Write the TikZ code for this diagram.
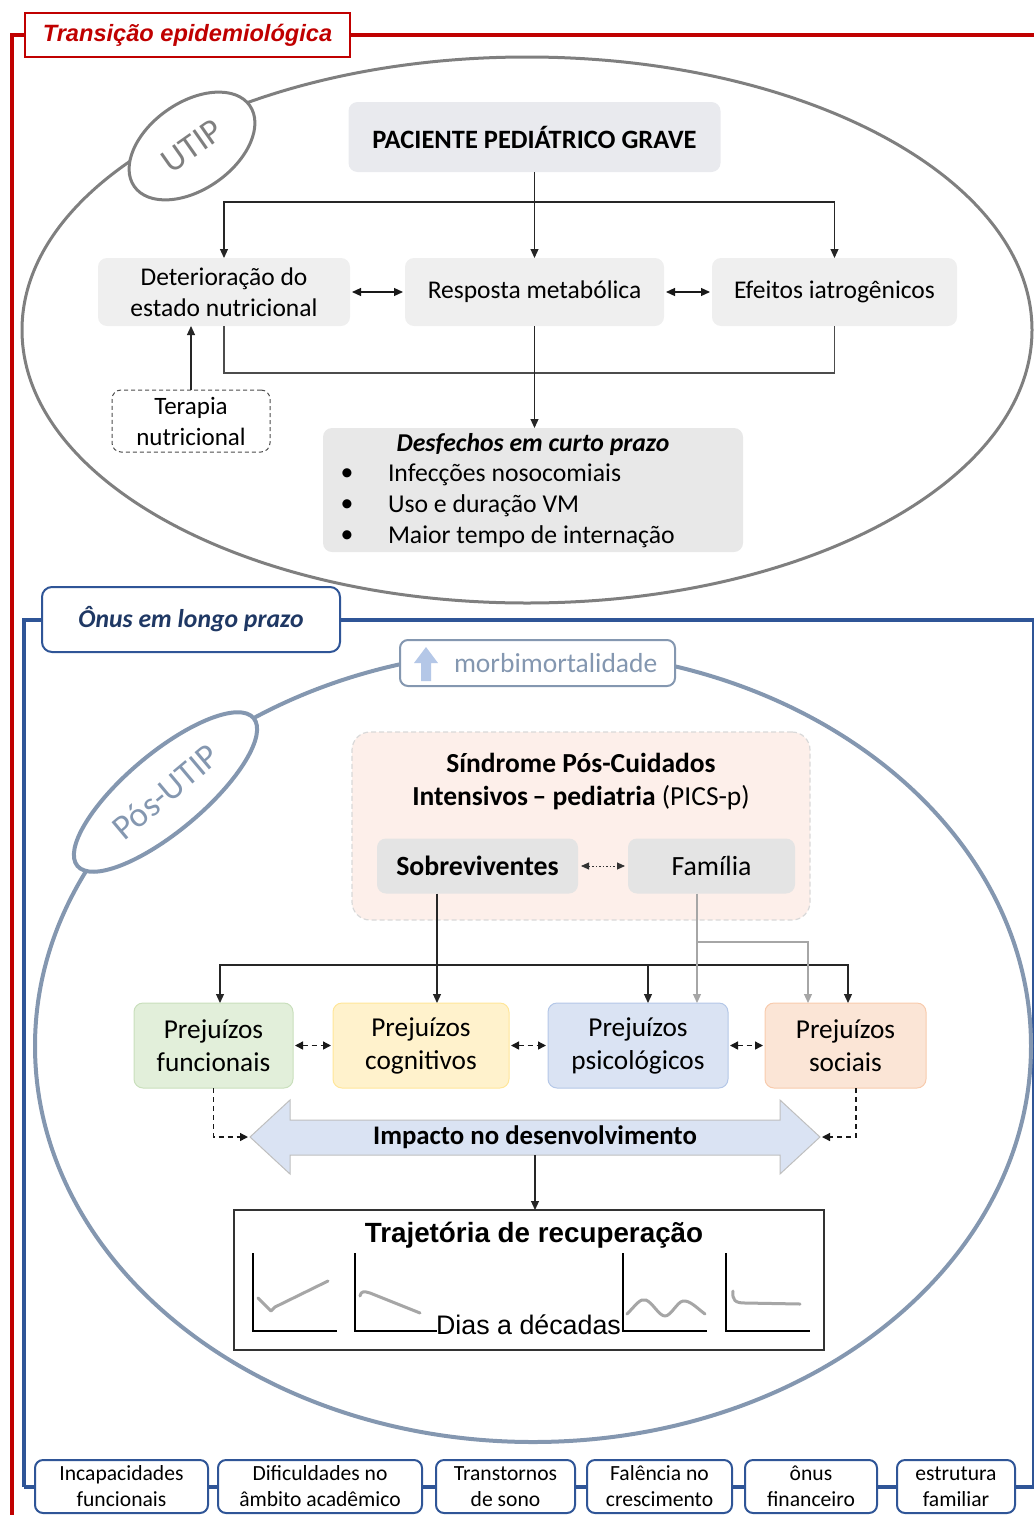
\documentclass[tikz,border=0pt]{standalone}
\usepackage{fontspec}
\setmainfont{Carlito}
\newfontfamily\arialf{Liberation Sans}
\usetikzlibrary{arrows.meta,shapes.geometric,calc}

\definecolor{framered}{HTML}{C00000}
\definecolor{frameblue}{HTML}{2F5597}
\definecolor{navytext}{HTML}{1F3864}
\definecolor{ringgray}{HTML}{7F7F7F}
\definecolor{ringblue}{HTML}{8497B0}
\definecolor{lightarrow}{HTML}{B4C7E7}
\definecolor{boxfill}{HTML}{EFEFEF}
\definecolor{headfill}{HTML}{E9EAEE}
\definecolor{outfill}{HTML}{E8E8E8}
\definecolor{picsfill}{HTML}{FDEFEA}
\definecolor{picsline}{HTML}{D9D9D9}
\definecolor{pairfill}{HTML}{E4E4E4}
\definecolor{greenfill}{HTML}{E2EFDA}
\definecolor{greenline}{HTML}{C9DFBC}
\definecolor{yellowfill}{HTML}{FFF2CC}
\definecolor{yellowline}{HTML}{FFE699}
\definecolor{bluefill}{HTML}{DAE3F3}
\definecolor{blueline}{HTML}{B4C7E7}
\definecolor{peachfill}{HTML}{FBE5D6}
\definecolor{peachline}{HTML}{F8CBAD}
\definecolor{softgray}{HTML}{A6A6A6}
\definecolor{curvegray}{HTML}{A6A6A6}
\definecolor{arrowedge}{HTML}{BFBFBF}

\newcommand{\setfs}[2]{\fontsize{#1}{#2}\selectfont}

\begin{document}
\begin{tikzpicture}[x=1pt,y=-1pt,
  every node/.style={inner sep=0pt, outer sep=0pt},
  gbox/.style={rounded corners=9pt, fill=boxfill, align=center, font=\setfs{25.5}{31}},
  arr/.style={draw=black!85, line width=1.1pt, -{Triangle[length=9pt,width=8pt]}},
  garr/.style={draw=softgray, line width=1.1pt, -{Triangle[length=9pt,width=8pt]}},
  plainln/.style={draw=black!70, line width=1.1pt},
  twoway/.style={draw=black!90, line width=1.2pt, {Triangle[length=9pt,width=8pt]}-{Triangle[length=9pt,width=8pt]}},
  dashtwoway/.style={draw=black!90, line width=1.4pt, dash pattern=on 5pt off 4pt, {Triangle[length=8pt,width=8pt]}-{Triangle[length=8pt,width=8pt]}},
  dashone/.style={draw=black!90, line width=1.3pt, dash pattern=on 5pt off 4pt, -{Triangle[length=8pt,width=8pt]}},
  impbox/.style={rounded corners=9pt, line width=1pt, align=center, font=\setfs{27.3}{33}},
  endbox/.style={draw=frameblue, line width=2pt, fill=white, rounded corners=8pt, align=center, font=\setfs{21.6}{26}},
  axisln/.style={draw=black, line width=1.6pt},
  curveln/.style={draw=curvegray, line width=3pt, line cap=round, line join=round}
]
\useasboundingbox (0,0) rectangle (1034,1515);

% ---------- frames ----------
\draw[framered, line width=4pt] (12,1515) -- (12,35) -- (1034,35);
\draw[frameblue, line width=4pt] (24,1487) -- (24,620) -- (1034,620);
\draw[frameblue, line width=4pt] (24,1487) -- (1034,1487);
\draw[frameblue, line width=1.2pt] (1033,620) -- (1033,1487);

\node[draw=framered, line width=2.5pt, fill=white, minimum width=325, minimum height=44,
      text=framered, font=\arialf\bfseries\itshape\setfs{23.6}{27}] (hdr) at (187.5,35) {Transição epidemiológica};

% ---------- intensive care stage ----------
\draw[ringgray, line width=3pt] (527,330) ellipse [x radius=505, y radius=273];
\node[ellipse, draw=ringgray, line width=3pt, fill=white, rotate=35, minimum width=141, minimum height=87,
      text=ringgray, font=\setfs{35}{35}] (utip) at (192,146) {UTIP};

\node[gbox, fill=headfill, minimum width=372, minimum height=70, font=\bfseries\setfs{26.5}{30}] (pac) at (534.5,137) {PACIENTE PEDIÁTRICO GRAVE};
\node[gbox, minimum width=252, minimum height=68] (det) at (224,292) {Deterioração do\\estado nutricional};
\node[gbox, minimum width=259, minimum height=68] (resp) at (534.5,292) {Resposta metabólica};
\node[gbox, minimum width=245, minimum height=68] (efe) at (834.5,292) {Efeitos iatrogênicos};
\node[draw=black!70, line width=1pt, dash pattern=on 4pt off 3pt, rounded corners=9pt, minimum width=158, minimum height=62,
      align=center, font=\setfs{25}{31}] (ter) at (191,421) {Terapia\\nutricional};

\node[gbox, fill=outfill, minimum width=420, minimum height=124] (des) at (533,490) {};
\node[font=\bfseries\itshape\setfs{25.7}{28}] (desT) at (533,444) {Desfechos em curto prazo};
\node[font=\setfs{25.7}{28}] (b1) at (347,475) {•};
\node[font=\setfs{25.7}{28}] (b2) at (347,506) {•};
\node[font=\setfs{25.7}{28}] (b3) at (347,537) {•};
\node[anchor=west, font=\setfs{25.7}{28}] (d1) at (388,475) {Infecções nosocomiais};
\node[anchor=west, font=\setfs{25.7}{28}] (d2) at (388,506) {Uso e duração VM};
\node[anchor=west, font=\setfs{25.7}{28}] (d3) at (388,537) {Maior tempo de internação};

% connectors of the first stage
\coordinate (split) at (534.5,202);
\draw[arr] (pac.south) -- (resp.north);
\draw[arr] (split) -| (det.north);
\draw[arr] (split) -| (efe.north);
\draw[plainln] (det.south) -- ++(0,47) -| (efe.south);
\draw[arr] (resp.south) -- (resp.south |- des.north);
\draw[twoway] ([xshift=2]det.east) -- ([xshift=-2]resp.west);
\draw[twoway] ([xshift=2]resp.east) -- ([xshift=-2]efe.west);
\draw[arr] (ter.north) -- (ter.north |- det.south);

% ---------- long-term burden ----------
\node[draw=frameblue, line width=2pt, fill=white, rounded corners=10pt, minimum width=298, minimum height=65,
      text=navytext, font=\bfseries\itshape\setfs{25.7}{29}] (onus) at (191,619.5) {Ônus em longo prazo};

\draw[ringblue, line width=4pt] (533,1046) ellipse [x radius=498, y radius=396];
\node[draw=ringblue, line width=2pt, fill=white, rounded corners=8pt, minimum width=275, minimum height=46] (morb) at (537.5,663) {};
\fill[lightarrow] (421,681) -- (421,663) -- (414,663) -- (426,647) -- (438,663) -- (431,663) -- (431,681) -- cycle;
\node[anchor=west, text=ringblue, font=\setfs{27.5}{30}] (morbT) at (454,663) {morbimortalidade};

\node[ellipse, draw=ringblue, line width=4pt, fill=white, rotate=40, minimum width=230, minimum height=78,
      text=ringblue, font=\setfs{35}{35}] (posutip) at (165.5,792) {Pós-UTIP};

\node[draw=picsline, line width=1.2pt, dash pattern=on 5pt off 3pt, fill=picsfill, rounded corners=18pt,
      minimum width=458, minimum height=188] (pics) at (581,826) {};
\node[align=center, font=\setfs{27.5}{33}] (picsT) at (581,781.5)
  {\textbf{Síndrome Pós-Cuidados}\\\textbf{Intensivos\,– pediatria} (PICS-p)};
\node[gbox, fill=pairfill, minimum width=201, minimum height=55, font=\bfseries\setfs{27.8}{30}] (sob) at (477.5,866) {Sobreviventes};
\node[gbox, fill=pairfill, minimum width=167, minimum height=55, font=\setfs{27.8}{30}] (fam) at (711.5,866) {Família};
\draw[draw=black!80, line width=0.9pt, dash pattern=on 1.5pt off 2pt,
      {Triangle[length=8pt,width=7pt]}-{Triangle[length=8pt,width=7pt]}] ([xshift=3]sob.east) -- ([xshift=-3]fam.west);

\node[impbox, draw=greenline, fill=greenfill, minimum width=159, minimum height=85] (fun) at (213.5,1045.5) {Prejuízos\\funcionais};
\node[impbox, draw=yellowline, fill=yellowfill, minimum width=176, minimum height=85] (cog) at (421,1045.5) {Prejuízos\\cognitivos};
\node[impbox, draw=blueline, fill=bluefill, minimum width=180, minimum height=85] (psi) at (638,1045.5) {Prejuízos\\psicológicos};
\node[impbox, draw=peachline, fill=peachfill, minimum width=161, minimum height=85] (soc) at (845.5,1045.5) {Prejuízos\\sociais};

% survivors feed every domain; family feeds psychological and social
\coordinate (sobOut) at ([xshift=-40.5]sob.south);
\coordinate (bus) at (437,965);
\draw[arr] (sobOut) -- (sobOut |- cog.north);
\draw[arr] (bus) -| ([xshift=6.5]fun.north);
\draw[arr] (bus) -| ([xshift=10]psi.north);
\draw[arr] (bus) -| ([xshift=2.5]soc.north);
\coordinate (famOut) at ([xshift=-14.5]fam.south);
\draw[garr] (famOut) -- (famOut |- psi.north);
\draw[garr] (famOut |- 0,942) -| ([xshift=-37.5]soc.north);

\draw[dashtwoway] ([xshift=2]fun.east) -- ([xshift=-2]cog.west);
\draw[dashtwoway] ([xshift=2]cog.east) -- ([xshift=-2]psi.west);
\draw[dashtwoway] ([xshift=2]psi.east) -- ([xshift=-2]soc.west);

% development impact arrow
\coordinate (tipL) at (250,1137);
\coordinate (tipR) at (820,1137);
\draw[draw=arrowedge, line width=1pt, fill=bluefill]
  (tipL) -- (290,1100) -- (290,1120) -- (780,1120) -- (780,1100) -- (tipR)
  -- (780,1174) -- (780,1155) -- (290,1155) -- (290,1174) -- cycle;
\node[minimum width=490, minimum height=35, font=\bfseries\setfs{26.8}{30}] (imp) at (535,1137.5) {Impacto no desenvolvimento};
\draw[dashone] (fun.south) |- ([xshift=-2]tipL);
\draw[dashone] ([xshift=10.5]soc.south) |- ([xshift=2]tipR);

% recovery trajectories
\node[draw=black!80, line width=1.2pt, fill=white, minimum width=590, minimum height=140] (traj) at (529,1280) {};
\draw[arr] (imp.south) -- (imp.south |- traj.north);
\node[font=\arialf\bfseries\setfs{27.8}{32}] (trajT) at (534,1235) {Trajetória de recuperação};
\node[anchor=base, font=\arialf\setfs{26.8}{30}] (dias) at (528.5,1334) {Dias a décadas};

\draw[axisln] (253,1253) -- (253,1331) -- (337,1331);
\draw[axisln] (355,1253) -- (355,1331) -- (437,1331);
\draw[axisln] (623,1253) -- (623,1331) -- (707,1331);
\draw[axisln] (726,1253) -- (726,1331) -- (810,1331);
\draw[curveln] (258,1298) -- (271,1311) -- (275,1307) -- (328,1281);
\draw[curveln] (360,1296) .. controls (361,1291) and (364,1291) .. (370,1293) -- (420,1313);
\draw[curveln] (627,1314) .. controls (636,1305) and (640,1298) .. (646,1300)
  .. controls (653,1303) and (659,1316) .. (665,1316)
  .. controls (671,1316) and (677,1302) .. (683,1301)
  .. controls (690,1300) and (698,1309) .. (705,1314);
\draw[curveln] (733,1291) .. controls (732,1300) and (735,1303) .. (745,1303) -- (800,1304);

% ---------- long-term outcomes ----------
\node[endbox, minimum width=173, minimum height=53] (o1) at (121.5,1486.5) {Incapacidades\\funcionais};
\node[endbox, minimum width=204, minimum height=53] (o2) at (320,1486.5) {Dificuldades no\\âmbito acadêmico};
\node[endbox, minimum width=139, minimum height=53] (o3) at (505.5,1486.5) {Transtornos\\de sono};
\node[endbox, minimum width=145, minimum height=53] (o4) at (659.5,1486.5) {Falência no\\crescimento};
\node[endbox, minimum width=132, minimum height=53] (o5) at (811,1486.5) {ônus\\financeiro};
\node[endbox, minimum width=118, minimum height=53] (o6) at (956,1486.5) {estrutura\\familiar};
\end{tikzpicture}
\end{document}
